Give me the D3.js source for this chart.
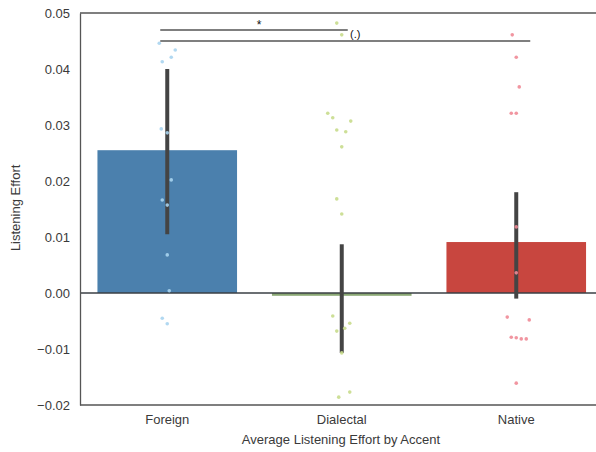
<!DOCTYPE html>
<html>
<head>
<meta charset="utf-8">
<script src="https://cdn.jsdelivr.net/npm/d3@7"></script>
<style>
body { margin: 0; background: #fff; }
text { font-family: "Liberation Sans", Arial, sans-serif; }
</style>
</head>
<body>
<div id="chart"></div>
<script>
// categories and summary values
var accents = ["Foreign", "Dialectal", "Native"];
var means = [0.0255, -0.0005, 0.0091];
var ciLow = [0.0105, -0.0107, -0.0010];
var ciHigh = [0.0400, 0.0087, 0.0180];
var yTicks = [-0.02, -0.01, 0.00, 0.01, 0.02, 0.03, 0.04, 0.05];

// individual points (strip plot)
var foreignPts = [0.0446, 0.0434, 0.0421, 0.0413, 0.0293, 0.0286, 0.0202, 0.0166, 0.0157, 0.0068, 0.0004, -0.0045, -0.0055];
var dialectalPts = [0.0482, 0.0461, 0.0321, 0.0313, 0.0307, 0.0291, 0.0288, 0.0261, 0.0168, 0.0141, -0.0041, -0.0054, -0.0063, -0.0068, -0.0107, -0.0177, -0.0186];
var nativePts = [0.0461, 0.0421, 0.0368, 0.0321, 0.0321, 0.0118, 0.0036, -0.0043, -0.0048, -0.0079, -0.0080, -0.0082, -0.0082, -0.0161];
// small horizontal jitter offsets (px)
var foreignJit = [-8, 8, 4, -5, -6, 0, 4, -5, 0, 0, 2, -5, 0];
var dialectalJit = [-5, 0, -14, -9, 9, -5, 4, 0, -5, 0, -9, 8, 3, -5, 0, 8, -3];
var nativeJit = [-4, 0, 3, -5, 0, 0, 0, -9, 13, -5, 0, 5, 10, 0];

var barColors = ["#4b80ad", "#8aa874", "#c8463f"];
var ptColors = ["#a9d4ef", "#c8dc8c", "#f08a96"];

var W = 596, H = 452;
var margin = {top: 13, left: 80, bottom: 47};

var svg = d3.select("#chart").append("svg")
    .attr("width", W).attr("height", H);

var x = d3.scaleBand().domain(accents).range([80, 603.5]).paddingInner(0.2).paddingOuter(0.1);
var y = d3.scaleLinear().domain([-0.02, 0.05]).range([H - margin.bottom, margin.top]);

// bars
svg.selectAll("rect.bar")
    .data(accents)
    .enter().append("rect")
    .attr("class", "bar")
    .attr("x", function(d) { return x(d); })
    .attr("width", x.bandwidth())
    .attr("y", function(d, i) { return y(Math.max(0, means[i])); })
    .attr("height", function(d, i) { return Math.max(2.5, Math.abs(y(means[i]) - y(0))); })
    .attr("fill", function(d, i) { return barColors[i]; });

// zero line
svg.append("line")
    .attr("x1", 80).attr("x2", W)
    .attr("y1", y(0)).attr("y2", y(0))
    .attr("stroke", "#3a3f44").attr("stroke-width", 1.5);

// error bars
svg.selectAll("line.err")
    .data(accents)
    .enter().append("line")
    .attr("class", "err")
    .attr("x1", function(d) { return x(d) + x.bandwidth() / 2; })
    .attr("x2", function(d) { return x(d) + x.bandwidth() / 2; })
    .attr("y1", function(d, i) { return y(ciLow[i]); })
    .attr("y2", function(d, i) { return y(ciHigh[i]); })
    .attr("stroke", "#444").attr("stroke-width", 4);

// points
var groups = [foreignPts, dialectalPts, nativePts];
var jits = [foreignJit, dialectalJit, nativeJit];
groups.forEach(function(pts, g) {
    svg.selectAll("circle.g" + g)
        .data(pts)
        .enter().append("circle")
        .attr("class", "g" + g)
        .attr("cx", function(d, i) { return x(accents[g]) + x.bandwidth() / 2 + jits[g][i]; })
        .attr("cy", function(d) { return y(d); })
        .attr("r", 1.8)
        .attr("fill", ptColors[g])
        .attr("opacity", 0.9);
});

// spines
svg.append("line").attr("x1", 80).attr("x2", W).attr("y1", y(0.05)).attr("y2", y(0.05))
    .attr("stroke", "#555").attr("stroke-width", 1.3);
svg.append("line").attr("x1", 80).attr("x2", W).attr("y1", y(-0.02)).attr("y2", y(-0.02))
    .attr("stroke", "#555").attr("stroke-width", 1.3);

// y axis
var yAxis = svg.append("g")
    .attr("transform", "translate(80,0)")
    .call(d3.axisLeft(y).tickValues(yTicks).tickSize(0).tickPadding(10)
        .tickFormat(function(d) { return d3.format(".2f")(d).replace("-", "\u2212"); }));
yAxis.select(".domain").attr("stroke", "#555").attr("stroke-width", 1.3);
yAxis.selectAll("text").attr("font-size", 13).attr("fill", "#3a3a3a");

// x axis labels
var xAxis = svg.append("g")
    .attr("transform", "translate(0," + y(-0.02) + ")")
    .call(d3.axisBottom(x).tickSize(0).tickPadding(10));
xAxis.select(".domain").remove();
xAxis.selectAll("text").attr("font-size", 13).attr("fill", "#3a3a3a");

// axis titles
svg.append("text")
    .attr("x", 341).attr("y", 444)
    .attr("text-anchor", "middle")
    .attr("font-size", 13).attr("fill", "#3a3a3a")
    .text("Average Listening Effort by Accent");
svg.append("text")
    .attr("transform", "translate(20," + y(0.0152) + ") rotate(-90)")
    .attr("text-anchor", "middle")
    .attr("font-size", 13).attr("fill", "#3a3a3a")
    .text("Listening Effort");

// significance lines
var xc = function(i) { return x(accents[i]) + x.bandwidth() / 2; };
svg.append("line").attr("x1", xc(0) - 7).attr("x2", xc(1) + 6)
    .attr("y1", 30).attr("y2", 30).attr("stroke", "#555").attr("stroke-width", 1.5);
svg.append("text").attr("x", 259).attr("y", 29).attr("text-anchor", "middle")
    .attr("font-size", 12).attr("fill", "#111").text("*");
svg.append("line").attr("x1", xc(0) - 7).attr("x2", xc(2) + 14)
    .attr("y1", 41).attr("y2", 41).attr("stroke", "#555").attr("stroke-width", 1.5);
svg.append("text").attr("x", 350).attr("y", 38)
    .attr("font-size", 11).attr("fill", "#111").text("(.)");
</script>
</body>
</html>
